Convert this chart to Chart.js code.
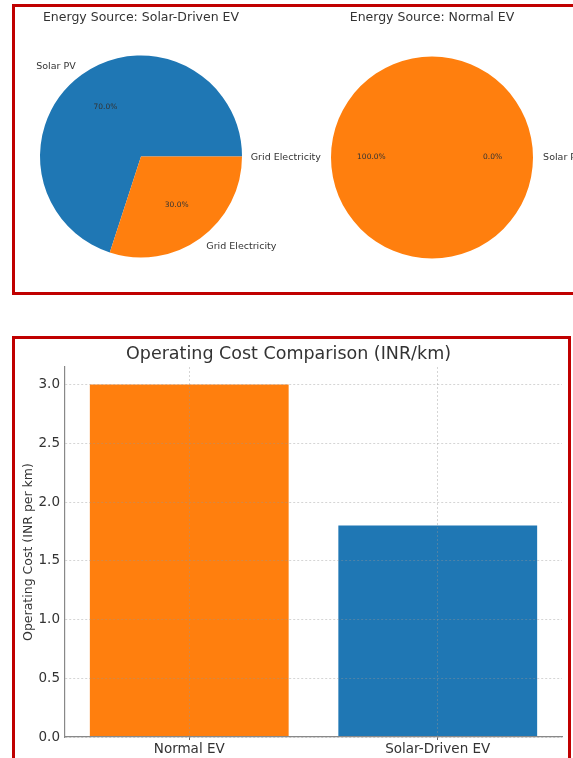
<!DOCTYPE html>
<html lang="en">
<head>
    <meta charset="UTF-8">
    <title>Solar-Driven EV vs Normal EV</title>
    <script src="https://cdn.jsdelivr.net/npm/chart.js"></script>
    <style>
        html, body { margin: 0; padding: 0; overflow: hidden; background: #fff; width: 573px; height: 758px; }
        .panel { position: absolute; box-sizing: border-box; border: 3px solid #c00000; }
        #topPanel { left: 12px; top: 4px; width: 620px; height: 291px; }
        #bottomPanel { left: 12px; top: 336px; width: 559px; height: 500px; }
        canvas { position: absolute; }
        #solarPie { left: 0; top: 0; }
        #normalPie { left: 200px; top: 0; }
        #costBar { left: 15px; top: 339px; }
    </style>
</head>
<body>
    <div class="panel" id="topPanel"></div>
    <div class="panel" id="bottomPanel"></div>
    <canvas id="solarPie" width="282" height="300"></canvas>
    <canvas id="normalPie" width="464" height="300"></canvas>
    <canvas id="costBar" width="553" height="419"></canvas>
    <script>
// Data
const solarSources = ['Solar PV', 'Grid Electricity'];
const solarShare = [70, 30];
const normalSources = ['Grid Electricity', 'Solar PV'];
const normalShare = [100, 0];
const costCategories = ['Normal EV', 'Solar-Driven EV'];
const costValues = [3.0, 1.8];

const BLUE = '#1f77b4';
const ORANGE = '#ff7f0e';
const TEXT = '#333333';
const sourceColor = { 'Solar PV': BLUE, 'Grid Electricity': ORANGE };

Chart.defaults.font.family = '"DejaVu Sans", sans-serif';
Chart.defaults.color = TEXT;

// labels outside slices (1.1 r) and percentages inside (0.6 r), like matplotlib
const pieLabels = {
    id: 'pieLabels',
    afterDatasetsDraw(chart) {
        const ctx = chart.ctx;
        const values = chart.data.datasets[0].data;
        const total = values.reduce((a, b) => a + b, 0);
        chart.getDatasetMeta(0).data.forEach((arc, i) => {
            const p = arc.getProps(['x', 'y', 'startAngle', 'endAngle', 'outerRadius'], true);
            const mid = (p.startAngle + p.endAngle) / 2;
            const c = Math.cos(mid), s = Math.sin(mid);
            const r = p.outerRadius;
            ctx.save();
            ctx.fillStyle = TEXT;
            ctx.textBaseline = 'middle';
            ctx.font = '9.5px "DejaVu Sans"';
            ctx.textAlign = c > 0 ? 'left' : 'right';
            ctx.fillText(chart.data.labels[i], p.x + 1.1 * r * c, p.y + 1.1 * r * s);
            ctx.font = '7.5px "DejaVu Sans"';
            ctx.textAlign = 'center';
            const pct = (values[i] / total * 100).toFixed(1) + '%';
            ctx.fillText(pct, p.x + 0.6 * r * c, p.y + 0.6 * r * s);
            ctx.restore();
        });
    }
};

function makePie(id, title, labels, values, rotation, bottomPad) {
    return new Chart(document.getElementById(id), {
        type: 'pie',
        data: {
            labels: labels,
            datasets: [{
                data: values,
                backgroundColor: labels.map(l => sourceColor[l]),
                borderWidth: 0
            }]
        },
        options: {
            responsive: false,
            animation: false,
            devicePixelRatio: 1,
            radius: 101,
            rotation: rotation,
            layout: { padding: { top: 0, bottom: bottomPad, left: 0, right: 0 } },
            plugins: {
                legend: { display: false },
                tooltip: { enabled: false },
                title: {
                    display: true,
                    text: title,
                    color: TEXT,
                    font: { size: 12.5, weight: 'normal' },
                    padding: { top: 10.5, bottom: 1.5 }
                }
            }
        },
        plugins: [pieLabels]
    });
}

// matplotlib starts at 3 o'clock and goes counter-clockwise
makePie('solarPie', 'Energy Source: Solar-Driven EV', solarSources, solarShare, 198, 14);
makePie('normalPie', 'Energy Source: Normal EV', normalSources, normalShare, 90, 12);

// Bar chart
const gridColor = 'rgba(150, 150, 150, 0.4)';
new Chart(document.getElementById('costBar'), {
    type: 'bar',
    data: {
        labels: costCategories,
        datasets: [{
            data: costValues,
            backgroundColor: [ORANGE, BLUE],
            borderWidth: 0,
            categoryPercentage: 1,
            barPercentage: 0.8
        }]
    },
    options: {
        responsive: false,
        animation: false,
        devicePixelRatio: 1,
        layout: { padding: { top: 0, bottom: 0, left: 0, right: 6 } },
        plugins: {
            legend: { display: false },
            tooltip: { enabled: false },
            title: {
                display: true,
                text: 'Operating Cost Comparison (INR/km)',
                color: TEXT,
                font: { size: 17.5, weight: 'normal' },
                padding: { top: 4.5, bottom: 2.5 }
            }
        },
        scales: {
            x: {
                grid: { z: 1, offset: false, color: gridColor, drawTicks: true, tickLength: 3, tickColor: '#666', tickBorderDash: [] },
                border: { z: 2, color: '#888', width: 1.2, dash: [2, 2] },
                ticks: { color: TEXT, font: { size: 13.5 }, padding: 1 },
                afterFit(scale) { scale.height = 21; }
            },
            y: {
                min: 0,
                max: 3.15,
                grid: { z: 1, color: gridColor, drawTicks: false },
                border: { z: 2, color: '#888', width: 1.2, dash: [2, 2] },
                ticks: {
                    stepSize: 0.5,
                    includeBounds: false,
                    color: TEXT,
                    font: { size: 13.5 },
                    padding: 5,
                    callback: v => v.toFixed(1)
                },
                title: {
                    display: true,
                    text: 'Operating Cost (INR per km)',
                    color: TEXT,
                    font: { size: 12.5, weight: 'normal' },
                    padding: { top: 6, bottom: 0 }
                },
                afterFit(scale) { scale.width = 50; }
            }
        }
    }
});
    </script>
</body>
</html>
